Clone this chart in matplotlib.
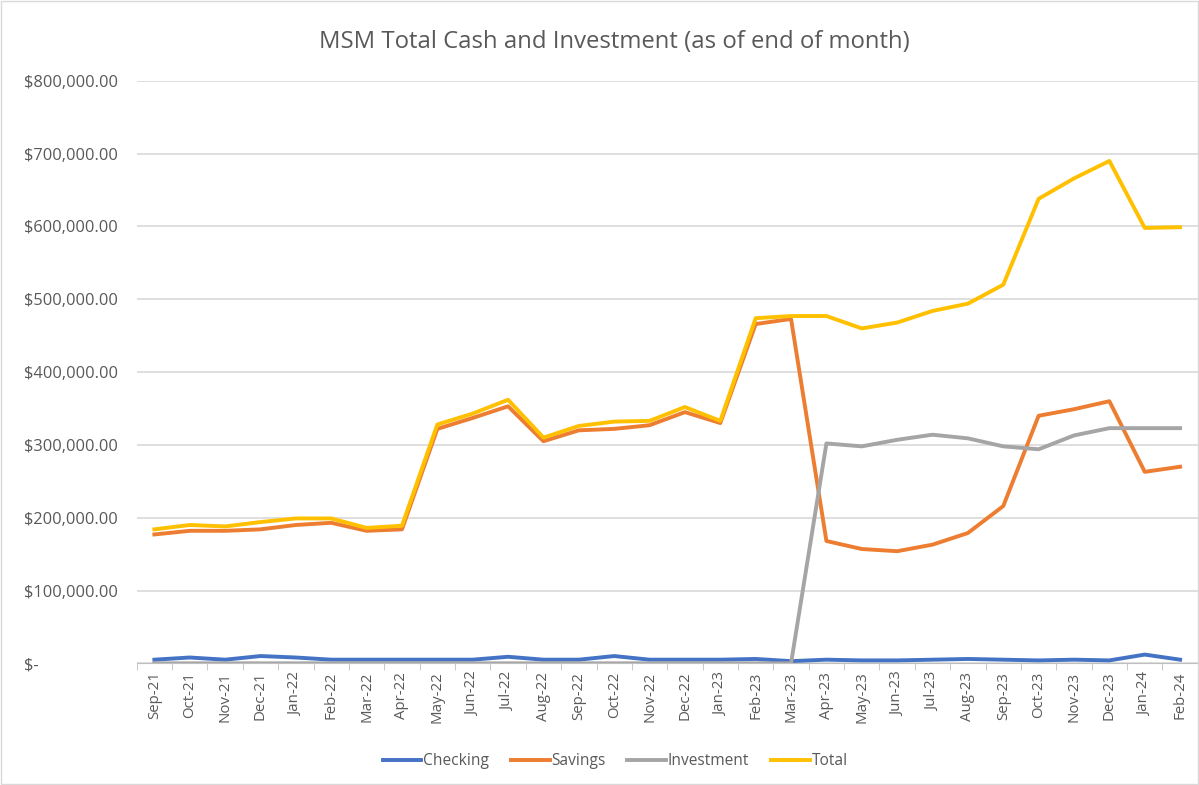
import numpy as np
import matplotlib
matplotlib.use("Agg")
import matplotlib.pyplot as plt
from matplotlib.ticker import FuncFormatter, FixedLocator

# months, end of month balances
months = ["Sep-21", "Oct-21", "Nov-21", "Dec-21", "Jan-22", "Feb-22", "Mar-22", "Apr-22",
          "May-22", "Jun-22", "Jul-22", "Aug-22", "Sep-22", "Oct-22", "Nov-22", "Dec-22",
          "Jan-23", "Feb-23", "Mar-23", "Apr-23", "May-23", "Jun-23", "Jul-23", "Aug-23",
          "Sep-23", "Oct-23", "Nov-23", "Dec-23", "Jan-24", "Feb-24"]

checking = [5000, 8000, 5000, 10000, 8000, 5000, 5000, 5000, 5000, 5000, 9000, 5000, 5000,
            10000, 5000, 5000, 5000, 6000, 3000, 5000, 4000, 4000, 5000, 6000, 5000, 4000,
            5000, 4000, 12000, 5000]
savings = [177000, 182000, 182000, 184000, 190000, 193000, 182000, 184000, 322000, 337000,
           353000, 305000, 320000, 322000, 327000, 345000, 330000, 466000, 473000, 168000,
           157000, 154000, 163000, 179000, 216000, 340000, 349000, 360000, 263000, 270000]
investment = [0, 0, 0, 0, 0, 0, 0, 0, 0, 0, 0, 0, 0, 0, 0, 0, 0, 0, 0, 302000, 298000,
              307000, 314000, 309000, 298000, 294000, 313000, 323000, 323000, 323000]
total = [184000, 190000, 188000, 194000, 199000, 199000, 186000, 189000, 328000, 343000,
         362000, 310000, 326000, 332000, 333000, 352000, 333000, 474000, 477000, 477000,
         460000, 468000, 484000, 494000, 520000, 638000, 666000, 690000, 598000, 599000]

series = [("Checking", checking, "#4472C4"),
          ("Savings", savings, "#ED7D31"),
          ("Investment", investment, "#A5A5A5"),
          ("Total", total, "#FFC000")]

plt.rcParams['font.family'] = ['Open Sans', 'DejaVu Sans']
txt = "#595959"

fig = plt.figure(figsize=(11.99, 7.85), dpi=100)
ax = fig.add_axes([0.114, 0.155, 0.885, 0.742])

x = np.arange(len(months))
for name, vals, col in series:
    ax.plot(x, vals, color=col, lw=2.8, label=name, solid_joinstyle="round")

ax.set_xlim(-0.5, len(months) - 0.5)
ax.set_ylim(0, 800000)
ax.set_yticks(np.arange(0, 800001, 100000))
ax.yaxis.set_major_formatter(FuncFormatter(lambda v, p: "$-" if v == 0 else f"${v:,.2f}"))
ax.grid(axis="y", color="#D9D9D9", lw=1.2)
ax.set_axisbelow(True)

ax.set_xticks(x)
ax.set_xticklabels(months, rotation=90, fontsize=10.8, color=txt)
ax.xaxis.set_minor_locator(FixedLocator(np.arange(-0.5, len(months), 1.0)))
ax.tick_params(axis="x", which="major", length=0, pad=6)
ax.tick_params(axis="x", which="minor", length=5, color="#BFBFBF")
ax.tick_params(axis="y", length=0, pad=81, labelsize=11.8, labelcolor=txt)
for lab in ax.get_yticklabels():
    lab.set_horizontalalignment("left")

for s in ["top", "right", "left"]:
    ax.spines[s].set_visible(False)
ax.spines["bottom"].set_color("#BFBFBF")

fig.text(0.512, 0.947, "MSM Total Cash and Investment (as of end of month)",
         ha="center", va="center", fontsize=17.2, color=txt)

fig.legend(loc="center", bbox_to_anchor=(0.513, 0.03), ncol=4, frameon=False,
           fontsize=11.2, handlelength=2.5, handletextpad=0.1, columnspacing=1.4,
           labelcolor=txt)

fig.patches.append(plt.Rectangle((0.001, 0.001), 0.998, 0.998, transform=fig.transFigure,
                                 fill=False, edgecolor="#D9D9D9", lw=1))

fig.savefig("out.png", dpi=100)
